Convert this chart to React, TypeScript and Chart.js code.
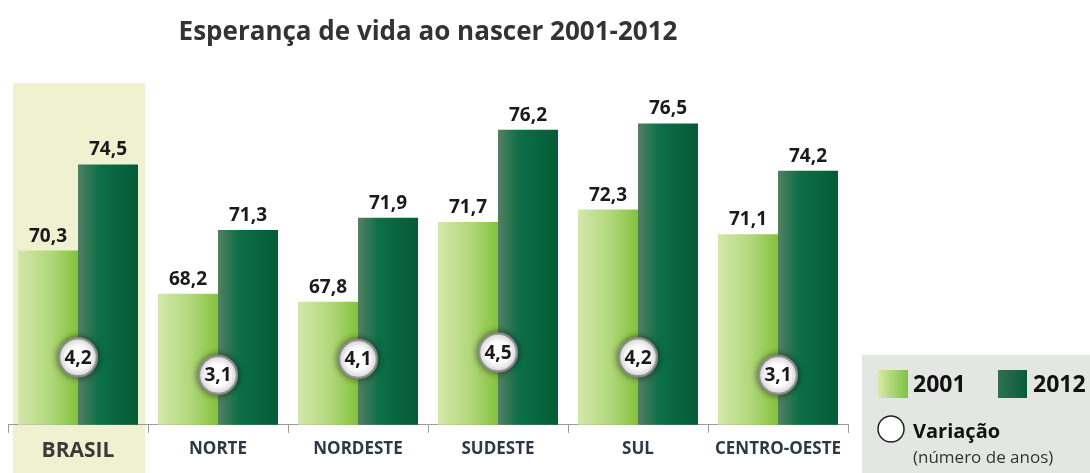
import React, { useEffect, useRef } from 'react';
import { Chart, registerables } from 'chart.js';

Chart.register(...registerables);

const TITLE = 'Esperança de vida ao nascer 2001-2012';
const categories = ['BRASIL', 'NORTE', 'NORDESTE', 'SUDESTE', 'SUL', 'CENTRO-OESTE'];
const series2001 = [70.3, 68.2, 67.8, 71.7, 72.3, 71.1];
const series2012 = [74.5, 71.3, 71.9, 76.2, 76.5, 74.2];
const variation = [4.2, 3.1, 4.1, 4.5, 4.2, 3.1];
const seriesNames = ['2001', '2012'];
const variationLegend = ['Variação', '(número de anos)'];
const highlightIndex = 0;

const FONT = "'Open Sans', sans-serif";
const CAT_PCT = 0.857;
const lightStops: [number, string][] = [[0, '#d4e7ab'], [0.55, '#b0d77a'], [1, '#84c23c']];
const darkStops: [number, string][] = [[0, '#537f61'], [0.35, '#0d6f48'], [1, '#045a35']];

const fmt = (v: number) => v.toFixed(1).replace('.', ',');

function makeGrad(ctx2d: CanvasRenderingContext2D, x0: number, x1: number, stops: [number, string][]) {
  const g = ctx2d.createLinearGradient(x0, 0, x1, 0);
  stops.forEach(([o, c]) => g.addColorStop(o, c));
  return g;
}

function barFill(stops: [number, string][]) {
  return (c: any) => {
    const chart = c.chart;
    const xs = chart.scales && chart.scales.x;
    if (!xs || !chart.chartArea || c.dataIndex === undefined) return stops[stops.length - 1][1];
    const center = xs.getPixelForValue(c.dataIndex);
    const catW = xs.width / categories.length;
    const barW = (catW * CAT_PCT) / 2;
    const left = c.datasetIndex === 0 ? center - barW : center;
    return makeGrad(chart.ctx, left, left + barW, stops);
  };
}

const decorPlugin = {
  id: 'decor',
  beforeDraw(chart: any) {
    const { ctx, chartArea } = chart;
    const x = chart.scales.x;
    const catW = x.width / categories.length;
    const c = x.getPixelForValue(highlightIndex);
    ctx.save();
    ctx.fillStyle = '#eef2d1';
    const top = chartArea.top + 15;
    ctx.fillRect(c - catW / 2 + 5, top, catW - 8, chart.height - top);
    ctx.restore();
  },
  beforeDatasetDraw(chart: any, args: any) {
    if (args.index === 2) {
      const ctx = chart.ctx;
      ctx.save();
      ctx.shadowColor = 'rgba(0,0,0,0.55)';
      ctx.shadowBlur = 7;
    }
  },
  afterDatasetDraw(chart: any, args: any) {
    if (args.index === 2) chart.ctx.restore();
  },
  afterDatasetsDraw(chart: any) {
    const ctx = chart.ctx;
    ctx.save();
    ctx.fillStyle = '#1a1a1a';
    ctx.textAlign = 'center';
    ctx.font = `bold 19px ${FONT}`;
    [0, 1].forEach((di) => {
      const meta = chart.getDatasetMeta(di);
      const vals = di === 0 ? series2001 : series2012;
      meta.data.forEach((el: any, i: number) => {
        ctx.textBaseline = 'bottom';
        ctx.fillText(fmt(vals[i]), el.x, el.y - 5);
      });
    });
    const pm = chart.getDatasetMeta(2);
    ctx.font = `bold 19px ${FONT}`;
    ctx.textBaseline = 'middle';
    pm.data.forEach((el: any, i: number) => {
      ctx.fillText(fmt(variation[i]), el.x, el.y + 1);
    });
    ctx.restore();
  },
  afterDraw(chart: any) {
    const ctx = chart.ctx;
    const lx = chart.chartArea.right + 14;
    const ly = chart.height - 118;
    ctx.save();
    ctx.fillStyle = '#e4e6e4';
    ctx.fillRect(lx, ly, chart.width - lx, chart.height - ly);
    ctx.fillStyle = makeGrad(ctx, lx + 16, lx + 46, [[0, '#d9eaa8'], [1, '#7cc242']]);
    ctx.fillRect(lx + 16, ly + 15, 30, 28);
    ctx.fillStyle = makeGrad(ctx, lx + 136, lx + 165, [[0, '#2f7252'], [1, '#0a5b39']]);
    ctx.fillRect(lx + 136, ly + 15, 29, 28);
    ctx.fillStyle = '#111';
    ctx.font = `bold 23px ${FONT}`;
    ctx.textBaseline = 'middle';
    ctx.textAlign = 'left';
    ctx.fillText(seriesNames[0], lx + 51, ly + 30);
    ctx.fillText(seriesNames[1], lx + 171, ly + 30);
    ctx.beginPath();
    ctx.arc(lx + 29, ly + 74, 13, 0, Math.PI * 2);
    ctx.fillStyle = '#fff';
    ctx.fill();
    ctx.lineWidth = 1.5;
    ctx.strokeStyle = '#222';
    ctx.stroke();
    ctx.fillStyle = '#111';
    ctx.textBaseline = 'alphabetic';
    ctx.font = `bold 20px ${FONT}`;
    ctx.fillText(variationLegend[0], lx + 51, ly + 83);
    ctx.fillStyle = '#333';
    ctx.font = `17px ${FONT}`;
    ctx.fillText(variationLegend[1], lx + 51, ly + 108);
    ctx.restore();
  },
};

export default function App() {
  const ref = useRef<HTMLCanvasElement | null>(null);
  useEffect(() => {
    document.body.style.margin = '0';
    if (!ref.current) return;
    const chart = new Chart(ref.current, {
      type: 'bar',
      data: {
        labels: categories,
        datasets: [
          {
            label: seriesNames[0],
            data: series2001,
            backgroundColor: barFill(lightStops),
            categoryPercentage: CAT_PCT,
            barPercentage: 1,
            order: 1,
            yAxisID: 'y',
          } as any,
          {
            label: seriesNames[1],
            data: series2012,
            backgroundColor: barFill(darkStops),
            categoryPercentage: CAT_PCT,
            barPercentage: 1,
            order: 1,
            yAxisID: 'y',
          } as any,
          {
            type: 'line',
            label: variationLegend[0],
            data: variation,
            yAxisID: 'y2',
            showLine: false,
            pointRadius: 19,
            pointBackgroundColor: '#ffffff',
            pointBorderColor: 'rgba(140,140,140,0.9)',
            pointBorderWidth: 2.5,
            order: 0,
          } as any,
        ],
      },
      plugins: [decorPlugin],
      options: {
        responsive: false,
        animation: false,
        layout: { autoPadding: false, padding: { left: 8, right: 242, top: 0, bottom: 3 } },
        plugins: {
          legend: { display: false },
          tooltip: { enabled: false },
          title: {
            display: true,
            text: TITLE,
            color: '#333',
            font: { family: FONT, size: 26, weight: 'bold' },
            padding: { top: 17, bottom: 20 },
          },
        },
        scales: {
          x: {
            offset: true,
            border: { display: true, color: '#9a9a9a', width: 1 },
            grid: {
              offset: true,
              drawOnChartArea: false,
              drawTicks: true,
              tickLength: 8,
              tickColor: '#9a9a9a',
            },
            ticks: {
              padding: 6,
              color: (c: any) => (c.index === highlightIndex ? '#3a3a3a' : '#2c3848'),
              font: (c: any) =>
                c.index === highlightIndex
                  ? { family: FONT, size: 21, weight: 'bold' }
                  : { family: FONT, size: 17, weight: 'bold' },
            },
          },
          y: { display: false, min: 61.8, max: 79.2 },
          y2: { display: false, min: 0, max: 22.2 },
        },
      } as any,
    });
    return () => chart.destroy();
  }, []);
  return (
    <div style={{ width: 1090, height: 473 }}>
      <canvas ref={ref} width={1090} height={473} />
    </div>
  );
}
